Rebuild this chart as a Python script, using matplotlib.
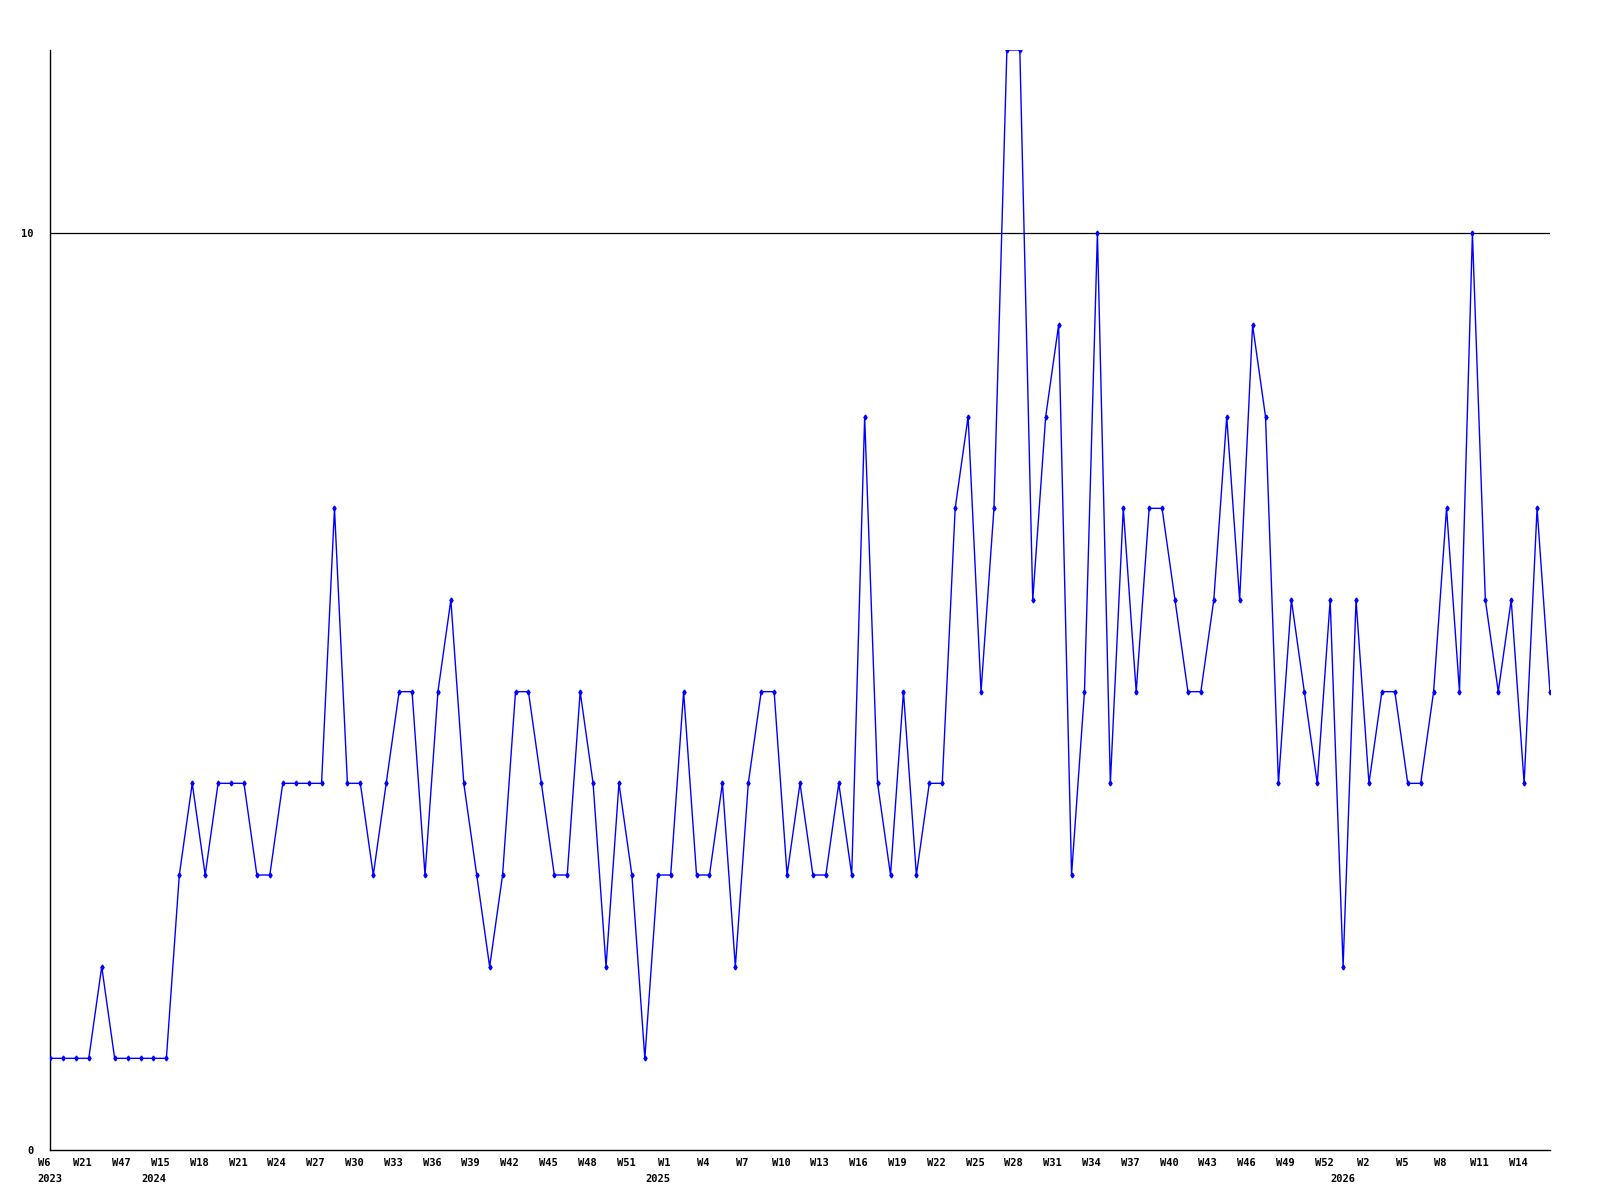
import matplotlib
matplotlib.use("Agg")
import matplotlib.pyplot as plt
import matplotlib.transforms as mtransforms

# weekly counts, one per data point
values = [1, 1, 1, 1, 2, 1, 1, 1, 1, 1,
          3, 4, 3, 4, 4, 4, 3, 3, 4, 4,
          4, 4, 7, 4, 4, 3, 4, 5, 5, 3,
          5, 6, 4, 3, 2, 3, 5, 5, 4, 3,
          3, 5, 4, 2, 4, 3, 1, 3, 3, 5,
          3, 3, 4, 2, 4, 5, 5, 3, 4, 3,
          3, 4, 3, 8, 4, 3, 5, 3, 4, 4,
          7, 8, 5, 7, 12, 12, 6, 8, 9, 3,
          5, 10, 4, 7, 5, 7, 7, 6, 5, 5,
          6, 8, 6, 9, 8, 4, 6, 5, 4, 6,
          2, 6, 4, 5, 5, 4, 4, 5, 7, 5,
          10, 6, 5, 6, 4, 7, 5]

# labels shown on every third week
week_labels = ["W6", "W21", "W47", "W15", "W18", "W21", "W24", "W27", "W30",
               "W33", "W36", "W39", "W42", "W45", "W48", "W51", "W1", "W4",
               "W7", "W10", "W13", "W16", "W19", "W22", "W25", "W28", "W31",
               "W34", "W37", "W40", "W43", "W46", "W49", "W52", "W2", "W5",
               "W8", "W11", "W14"]
years = ["2023", "2024", "2025", "2026"]
year_index = [0, 8, 47, 100]

x = list(range(len(values)))

fig = plt.figure(figsize=(16, 12), dpi=100)
ax = fig.add_axes([50 / 1600, 50 / 1200, 1500 / 1600, 1100 / 1200])

font = dict(family="DejaVu Sans Mono", weight="bold", size=7.5)

ax.axhline(10, color="black", linewidth=0.9, zorder=1)
ax.plot(x, values, color="#0000ff", linewidth=1.0, marker="d",
        markersize=2.5, zorder=3)

ax.set_xlim(0, len(values) - 1)
ax.set_ylim(0, 12)

for side in ["top", "right"]:
    ax.spines[side].set_visible(False)
ax.spines["left"].set_linewidth(1)
ax.spines["bottom"].set_linewidth(1)

ax.set_yticks([0, 10])
ax.set_yticklabels(["0", "10"], fontdict=font)
ax.tick_params(axis="y", length=0, pad=12)

ticks = list(range(0, len(values), 3))
ax.set_xticks(ticks)
ax.set_xticklabels(week_labels, fontdict=font)
ax.tick_params(axis="x", length=0, pad=6)
shift = mtransforms.ScaledTranslation(-6 / 100, 0, fig.dpi_scale_trans)
for lbl in ax.get_xticklabels():
    lbl.set_transform(lbl.get_transform() + shift)

for yr, i in zip(years, year_index):
    ax.annotate(yr, xy=(i, 0), xycoords=("data", "axes fraction"),
                xytext=(0, -17), textcoords="offset points",
                ha="center", va="top", **font)

fig.savefig("out.png", dpi=100)
